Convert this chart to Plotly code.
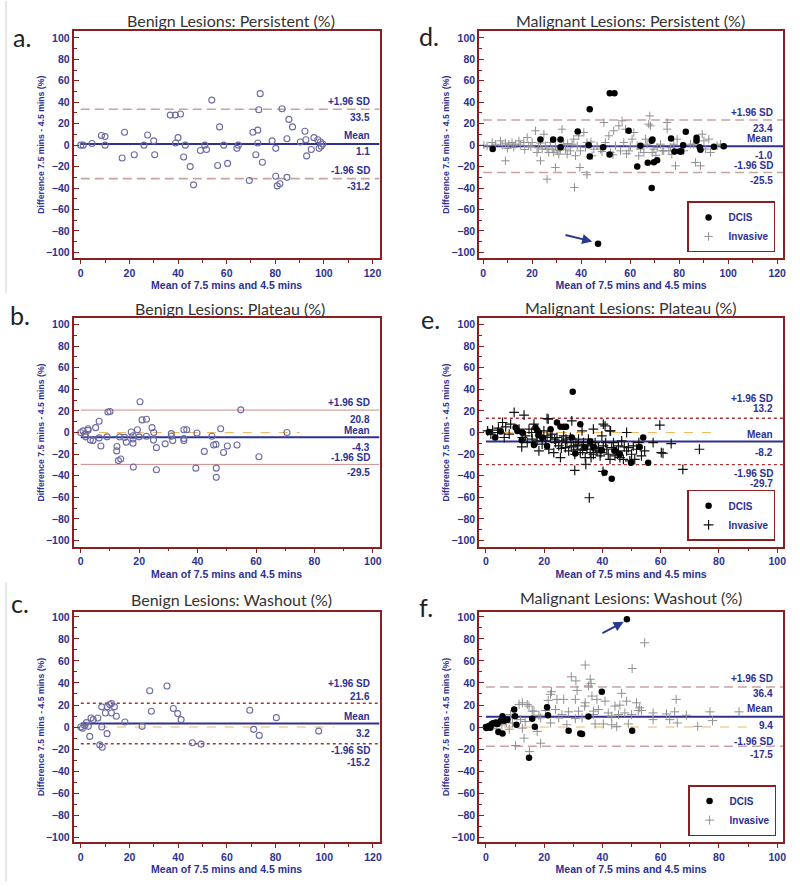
import plotly.graph_objects as go

# ---------------- data ----------------
# a. Benign lesions: persistent
a_x = [0, 1, 4.6, 8.5, 10, 10, 17, 18, 22, 26, 27.5, 30, 30.4, 36.8, 38.9, 41, 39, 40, 43, 42.3,
       45, 46.4, 49.2, 51, 51.7, 53.9, 56.3, 57.1, 58.8, 60.4, 64.2, 64.8, 69.3, 70.8, 72, 72.8,
       73.2, 72.8, 73.8, 74.7, 78.7, 80.2, 80.2, 80.8, 81.9, 82.8, 84.8, 84.8, 85.6, 87.1, 90.3,
       92.2, 92.6, 92.9, 94.8, 95.9, 97.5, 98, 98.6, 98.9, 99.5]
a_y = [0, 0, 1.5, 9, 8, 0, -12, 12, -9, 0, 9.5, 4, -9, 28, 28, 29, 2, 7, 0, -11,
       -20, -37, -5, 0, -4, 42, -19, 17, 0, -17, -3, 0, -33, 12, -9, 14,
       33, 2, 48, -16, 4, -3, -29, -38, -36, 34, 6, -30, 24, 17, 3,
       13, 5, -10, -4, 7, 5, -3, 3, -1, 1]
a_stats = [33.5, 1.1, -31.2]

# b. Benign lesions: plateau
b_x = [0, 0.8, 1.5, 1.7, 2.5, 2.5, 3.3, 4.2, 5.1, 6.3, 6.3, 6.9, 9, 9.3, 10, 12.4, 12.3, 12.9, 13.7, 13.3,
       15, 15.6, 17.3, 17.9, 17.9, 17.9, 18, 19.4, 20, 20.3, 21, 22.5, 22.5, 24.4, 25, 24.9, 25.9, 25.9,
       28.9, 31, 31, 31.5, 35.3, 36.3, 35.3, 35.3, 39.8, 39.4, 42.3, 44.9, 45.5, 46.3, 46.4, 46.4, 47.9,
       48.9, 50.2, 53.5, 54.8, 61, 70.6]
b_y = [0, 1.5, -1.5, -4, 2, 3.5, -7, -7.5, 4.5, 10.5, -5, -12.5, -4, 19, 19.5, -13, -17, -26, -24.5, -4,
       -4.5, -9, 0.5, -3, -6, -10, -32, 2.5, -4, 28.5, 11.7, 12.3, -3.5, 4.5, 0, -7, -14, -34.5,
       -10.5, -1, -3.5, -7.5, 2.5, 2.5, -5.5, -7.5, -0.5, -33, -17.5, -3.5, -11.5, -11, -33, -41.5, 3.5,
       -18.5, -12.5, -11.5, 21, -22.5, 0]
b_stats = [20.8, -4.3, -29.5]
b_zero_end = 75

# c. Benign lesions: washout
c_x = [0, 0.7, 1.6, 2.3, 3.1, 3.7, 4.2, 5.1, 7, 7.8, 8.8, 8.6, 8.6, 10.1, 10.8, 10.9, 11.9, 12.6, 12.6, 13.8,
       14.6, 18.1, 25.2, 28.3, 29, 35.4, 38, 39.8, 41.2, 45.8, 49.4, 69.4, 71, 73.3, 80.3, 97.7]
c_y = [0, -1, 1.5, 4, 0.6, -8.5, 8.2, 6.7, 8.2, -16.2, -18.3, 18.3, 0, 12.8, -6, 18.3, 20.4, 12.8, 21.3, 18.3,
       9.8, 4.6, 0.6, 32.9, 14.3, 37.2, 16.8, 12.2, 6.7, -14.3, -15.5, 15.2, -2.1, -7.6, 8.5, -3.7]
c_stats = [21.6, 3.2, -15.2]
c_zero_end = 104

# d. Malignant lesions: persistent
d_dcis_x = [3.9, 23.4, 28.6, 31.6, 31.6, 38.6, 43.5, 43.1, 43.5, 49, 51.6, 51.7, 53.6, 46.9, 59.4,
            64.2, 62.9, 67.2, 68.8, 69.1, 69.7, 71, 68.8, 76.7, 78.1, 80.3, 80.8, 81.6, 82.7, 87.1,
            87.1, 88.4, 88.7, 94.2, 98.2]
d_dcis_y = [-3.7, 5.3, 5.3, 5.3, -2, 12.7, 33.5, 0, -10.6, -2, -8.7, 48.4, 48.4, -92, 13.4,
            -0.6, -19.9, -16.5, 4, 5.3, -16, -14, -40, 6.2, -5.9, -6, -6, 0, 12.4, 7,
            4, -2, -4.3, -1.5, -1]
d_inv_x = [0.3, 1.6, 3.7, 5.0, 7.1, 7.8, 9.1, 10.5, 11.8, 13.2,
           14.6, 15.2, 16.6, 18.0, 18.6, 20.0, 21.4, 22.0, 23.4, 24.1,
           24.8, 25.4, 26.1, 26.8, 27.5, 28.2, 28.8, 29.5, 30.2, 30.9,
           32.2, 32.9, 33.6, 34.3, 35.6, 36.3, 37.0, 37.7, 38.4, 39.0,
           39.7, 41.1, 41.8, 42.4, 44.5, 45.2, 46.5, 47.9, 49.3, 49.9,
           51.3, 52.0, 53.3, 54.0, 55.4, 56.1, 56.7, 57.4, 58.1, 59.5,
           60.1, 60.8, 61.5, 62.9, 64.2, 65.6, 66.3, 66.9, 67.6, 68.0,
           68.3, 69.0, 69.7, 71.0, 72.4, 73.1, 73.7, 75.1, 75.1, 75.8,
           76.5, 77.8, 78.5, 79.2, 80.5, 81.9, 84.6, 86.0, 86.7, 88.7,
           89.4, 90.1, 90.7, 92.1, 92.8, 95.5, 96.9,
           9.1, 23.4, 29.5, 26.1, 37.3, 39.5, 42.4,
           10.0, 12.5, 17.0, 19.5, 22.5, 31.5, 34.5, 44.0, 48.5, 53.0, 58.5, 63.5, 70.5, 77.0]
d_inv_y = [0, -0.6, 2.5, 0.9, 4.0, 0, 1.9, 0.9, 2.5, 0.9,
           4.0, 0, 2.5, 7.1, -0.6, 2.5, 13.4, -6.8, 1.9, -3.7,
           10.2, -0.6, -3.7, -6.8, 2.5, -3.7, -6.8, -0.6, -5.3, -8.4,
           14.9, 0.9, -3.7, -8.4, -5.3, 0.9, 5.6, -9.9, -0.6, 8.7,
           -5.3, 11.8, -2.2, 2.5, -9.9, -3.7, -0.6, -3.7, 21.1, 2.5,
           8.7, -6.8, 13.4, -0.6, 18.0, -5.3, 22.7, 2.5, 14.9, -5.3,
           -0.6, 5.6, 11.8, -0.6, -3.7, -6.8, 5.6, 0.9, 19.6, 27.3,
           18.0, -6.8, -3.7, -2.2, 0.9, -5.3, -5.3, 14.9, 21.1, -5.3,
           -2.2, 0.9, -19.3, 5.6, -3.7, -5.3, 0.9, 0.9, -16.1, -19.3,
           10.2, 4.0, -3.7, 5.6, -6.8, -0.6, 0.9,
           -14.6, -14.6, -20.8, -31.7, -39.4, -20.8, -27.6,
           -3.0, -2.0, -4.0, -1.5, -2.5, -4.5, 1.5, 3.0, -6.0, -9.0, -8.0, -10.0, -9.5, -8.5]
d_stats = [23.4, -1.0, -25.5]

# e. Malignant lesions: plateau
e_dcis_x = [29.8, 3.2, 5.1, 10.2, 10.8, 12.3, 12.5, 16.5, 17.0, 17.6, 18.2, 18.0, 19.3, 21.0, 22.2,
            24.4, 25.6, 26.7, 27.5, 29.5, 30.7, 32.4, 33.9, 35.8, 36.9, 39.8, 40.7, 43.2, 44.3, 49.8,
            54.0, 55.7, 52.8, 46.0, 1.0]
e_dcis_y = [37.8, -4.6, 0.9, 4.6, 1.5, -7.1, 0, -11.5, 4.6, 2.2, 0, -2.5, -4.6, -12.4, 3.1,
            9.3, 5.3, 5.3, 5.3, -4.6, -19.5, 7.7, -13.9, -8.4, -13.3, -16.4, -37.2, -42.7, -17, -27.9,
            -4.6, -27.9, -13.3, -20, 0.5]
e_inv_x = [9.7, 13.1, 21.0, 59.7, 73.3, 67.6, 30.5, 40.2, 34.3, 35.5, 60.8, 63.6,
           0.6, 2.3, 4.3, 5.7, 6.8, 6.3, 8.0, 8.5, 11.4, 12.3,
           13.6, 14.8, 15.7, 16.5, 17.6, 18.8, 19.9, 20.5, 21.4, 22.2,
           22.7, 23.3, 23.9, 24.4, 25.0, 25.6, 26.1, 26.7, 27.3, 27.8,
           28.4, 29.0, 29.5, 30.1, 30.9, 31.3, 31.8, 32.4, 33.0, 33.5,
           34.1, 34.7, 35.2, 35.8, 36.4, 36.9, 37.5, 38.1, 38.6, 39.2,
           39.8, 40.3, 40.9, 41.5, 42.0, 42.6, 43.2, 44.3, 44.9, 45.5,
           46.0, 46.6, 47.2, 48.3, 48.9, 50.0, 51.1, 51.7, 52.5, 53.4,
           57.4, 60.2, 48.3, 40.3, 42.8, 36.9, 33.0, 1.7, 4.0, 12.5,
           14.2, 18.2, 21.6,
           15.9, 19.3, 21.0, 23.6, 25.9, 27.5, 29.3, 30.5, 31.6, 33.2, 35.0,
           36.1, 37.7, 39.5, 41.1, 42.6, 43.8, 45.2, 47.5, 49.4, 50.6, 54.5]
e_inv_y = [18.6, 16.1, 13.0, 6.8, -15.5, -34.1, -35.0, -36.0, -29.4, -60.4, -19.2, -10.2,
           1.5, 2.2, 4.0, 9.3, 5.3, -4.6, -1.5, 7.7, 3.1, -13.3,
           -3.1, 3.1, 0, 7.7, -7.7, -3.1, 1.5, -7.7, 12.4, -4.6,
           -1.5, -18.6, -9.3, -4.6, -12.4, -23.2, -7.7, -3.1, -13.9, -9.3,
           -17.0, -4.6, 10.8, -12.4, -9.3, -15.5, -6.2, -18.6, -12.4, -9.3,
           -23.2, -15.5, -6.2, -18.6, -12.4, -20.1, -9.3, -17.0, -13.9, -21.7,
           -3.1, -12.4, 6.2, -15.5, -20.1, 1.5, -13.9, -21.7, -17.0, -12.4,
           -23.2, -7.7, -24.8, -17.0, -13.9, -20.1, -24.8, -15.5, -9.3, -21.7,
           -9.3, -18.6, 0, 7.7, 1.5, 3.1, 1.5, -1.5, 0, -4.6,
           -9.3, -17.0, -15.5,
           -6.2, -10.8, -3.1, -6.2, -14.6, -6.2, -13.3, -20.1, -11.5, -16.4, -11.5,
           -23.2, -14.6, -18.6, -9.3, -24.8, -9.3, -20.1, -13.3, -26.3, -12.4, -17.0]
e_stats = [13.2, -8.2, -29.7]
e_zero_end = 78

# f. Malignant lesions: washout
f_dcis_x = [0, 0.2, 0.8, 1.1, 1.5, 1.8, 2.0, 2.5, 3.0, 3.4, 4.0, 4.3, 5.7, 5.1, 5.7, 6.3, 7.4, 9.7, 10.0, 10.5,
            15.9, 16.8, 21.0, 21.3, 28.4, 32.4, 33.0, 35.2, 39.8, 50.2, 14.8, 48.4]
f_dcis_y = [0, -0.9, 0.3, 0.9, -0.6, 1.5, 2.8, 3.4, 3.4, 4.0, 2.8, -4.6, -5.8, 5.8, 9.8, 5.8, 6.7, 15.9, 9.8, 2.1,
            7.6, 0.3, 18.0, 10.7, -3.4, -5.8, -6.4, 9.5, 32.1, -3.4, -27.8, 97.9]
f_inv_x = [54.5, 34.1, 50.2, 29.3, 30.9, 35.8, 36.1, 35.2, 22.5, 22.2,
           46.6, 65.3, 31.3, 36.4, 12.5, 14.2, 21.4, 24.4, 26.7, 30.7,
           34.1, 38.1, 40.9, 44.3, 46.0, 48.3, 51.7, 52.8, 52.3, 11.4,
           14.8, 16.5, 20.5, 23.9, 26.1, 28.4, 31.8, 33.9, 36.9, 38.6,
           42.0, 43.2, 45.5, 47.7, 50.0, 53.4, 57.4, 57.4, 62.0, 63.1,
           64.8, 65.7, 68.8, 72.7, 76.9, 77.8, 86.9, 8.5, 9.1, 11.9,
           13.1, 18.2, 18.8, 17.6, 10.2, 15.0, 18.8, 22.2, 27.8, 30.7,
           37.5, 40.3, 43.2, 44.9, 48.9, 36.9, 33.0, 25.0, 15.9, 2.0,
           3.5, 5.5, 7.0, 8.0, 12.5, 13.5]
f_inv_y = [76.5, 56.3, 53.2, 45.6, 41.9, 43.4, 39.4, 37.3, 32.1, 29.7,
           30.6, 25.1, 33.3, 28.1, 22.0, 20.5, 24.2, 25.1, 25.1, 25.1,
           22.0, 25.1, 23.5, 19.0, 19.9, 23.5, 22.0, 17.4, 15.0, 20.5,
           19.0, 14.4, 15.0, 15.9, 11.3, 13.8, 14.4, 19.0, 14.4, 15.9,
           12.8, 9.8, 11.3, 12.8, 11.3, 15.0, 12.8, 6.7, 11.9, 6.7,
           13.8, 3.7, 10.7, 0.6, 13.8, 5.8, 13.8, 11.3, 3.7, 6.7,
           -10.1, 10.7, 8.3, -4.0, -16.8, -22.3, -14.7, 3.7, 2.1, 7.6,
           2.8, 2.8, 2.1, 0.6, 2.8, 11.3, 8.3, 8.3, 14.4, 1.0,
           -1.5, 2.0, 4.0, -2.0, -1.0, 5.0]
f_stats = [36.4, 9.4, -17.5]
f_zero_end = 92

stat_names = ["+1.96 SD", "Mean", "-1.96 SD"]
titles = ["Benign Lesions: Persistent (%)", "Benign Lesions: Plateau (%)", "Benign Lesions: Washout (%)",
          "Malignant Lesions: Persistent (%)", "Malignant Lesions: Plateau (%)", "Malignant Lesions: Washout (%)"]
letters = ["a.", "b.", "c.", "d.", "e.", "f."]
x_title = "Mean of 7.5 mins and 4.5 mins"
y_title = "Difference 7.5 mins - 4.5 mins (%)"

# ---------------- style ----------------
BLUE = "#2E3192"
FRAME = "#8B1E1E"
TXT = "#333333"
BOLD = dict(family="Liberation Sans, Arial", size=10, color=BLUE, weight="bold")
TICKF = dict(BOLD, size=10.5)

W, H = 800, 887
def px_x(p):
    return p / W
def px_y(p):
    return 1 - p / H
def sfx(n):
    return "" if n == 1 else str(n)

col_dom = [[px_x(74), px_x(381)], [px_x(481), px_x(786)]]
row_dom = [[px_y(258), px_y(30)], [px_y(547), px_y(318)], [px_y(843), px_y(612)]]

panels = [
    dict(n=1, col=0, row=0, xr=[-2.9, 122.9], yr=[-105.6, 106.5], stats=a_stats,
         lim=dict(color="#C9A2A2", width=1.6, dash="9px,5px"), zero=None,
         shifts=[(8, -8), (8, -8), (8, -8)], title_xy=(232, 20), letter_xy=(22, 36)),
    dict(n=2, col=0, row=1, xr=[-2.4, 102.3], yr=[-105.8, 105.8], stats=b_stats,
         lim=dict(color="#D08A8A", width=1, dash="solid"), zero=b_zero_end,
         shifts=[(8, -9), (7, -10), (7, -8)], title_xy=(231, 308), letter_xy=(20, 315)),
    dict(n=3, col=0, row=2, xr=[-2.9, 122.7], yr=[-104.5, 104.8], stats=c_stats,
         lim=dict(color="#A83232", width=1.3, dash="dot"), zero=c_zero_end,
         shifts=[(20, 7), (7, -10), (-7, -19)], title_xy=(232, 600), letter_xy=(20, 603)),
    dict(n=4, col=1, row=0, xr=[-1.6, 122.4], yr=[-105.6, 106.5], stats=d_stats,
         lim=dict(color="#C9A2A2", width=1.6, dash="9px,5px"), zero=None,
         shifts=[(8, -8), (8, -9), (7, -8)], title_xy=(633, 20), letter_xy=(431, 35)),
    dict(n=5, col=1, row=1, xr=[-2.3, 102.0], yr=[-105.8, 105.8], stats=e_stats,
         lim=dict(color="#A83232", width=1.3, dash="dot"), zero=e_zero_end,
         shifts=[(20, 10), (7, -11), (-9, -19)], title_xy=(633, 307), letter_xy=(432, 319)),
    dict(n=6, col=1, row=2, xr=[-2.3, 102.0], yr=[-104.5, 104.8], stats=f_stats,
         lim=dict(color="#C9A2A2", width=1.6, dash="9px,5px"), zero=f_zero_end,
         shifts=[(8, -7), (8, -9), (5, -8)], title_xy=(633, 598), letter_xy=(428, 607)),
]

fig = go.Figure()

benign = [(a_x, a_y), (b_x, b_y), (c_x, c_y)]
for i, (bx, by) in enumerate(benign):
    n = i + 1
    fig.add_trace(go.Scatter(x=bx, y=by, mode="markers", showlegend=False,
                             xaxis=f"x{sfx(n)}", yaxis=f"y{sfx(n)}",
                             marker=dict(symbol="circle-open", size=6, color="#6C6CA4",
                                         line=dict(width=1.1, color="#6C6CA4"))))

malig = [(d_dcis_x, d_dcis_y, d_inv_x, d_inv_y, "#909090", 6, 1.0, "legend"),
         (e_dcis_x, e_dcis_y, e_inv_x, e_inv_y, "#111111", 7, 1.2, "legend2"),
         (f_dcis_x, f_dcis_y, f_inv_x, f_inv_y, "#909090", 6.5, 1.0, "legend3")]
for i, (dx, dy, ix, iy, icol, isz, ilw, lg) in enumerate(malig):
    n = i + 4
    fig.add_trace(go.Scatter(x=ix, y=iy, mode="markers", name="Invasive", legend=lg,
                             xaxis=f"x{n}", yaxis=f"y{n}",
                             marker=dict(symbol="cross-thin", size=isz, color=icol,
                                         line=dict(width=ilw, color=icol))))
    fig.add_trace(go.Scatter(x=dx, y=dy, mode="markers", name="DCIS", legend=lg,
                             xaxis=f"x{n}", yaxis=f"y{n}",
                             marker=dict(symbol="circle", size=6.5, color="black")))

layout = dict(width=W, height=H, margin=dict(l=0, r=0, t=0, b=0),
              paper_bgcolor="white", plot_bgcolor="white",
              font=dict(family="Liberation Sans, Arial", color=BLUE))
annotations = []
shapes = []

for p in panels:
    n = p["n"]
    s = sfx(n)
    xa = dict(domain=col_dom[p["col"]], range=p["xr"], anchor=f"y{s}",
              showline=True, linecolor=FRAME, linewidth=2, mirror=True,
              ticks="outside", ticklen=4, tickwidth=1.2, tickcolor=FRAME,
              tickmode="linear", tick0=0, dtick=20, tickfont=TICKF,
              minor=dict(ticks="outside", ticklen=2.5, dtick=10, tick0=0, tickcolor=FRAME),
              showgrid=False, zeroline=False, fixedrange=True,
              title=dict(text=x_title, font=dict(BOLD, size=10.5), standoff=4))
    ya = dict(domain=row_dom[p["row"]], range=p["yr"], anchor=f"x{s}",
              showline=True, linecolor=FRAME, linewidth=2, mirror=True,
              ticks="inside", ticklen=5, tickwidth=1.2, tickcolor=FRAME,
              tickmode="linear", tick0=0, dtick=20, tickfont=TICKF,
              minor=dict(ticks="inside", ticklen=3, dtick=10, tick0=0, tickcolor=FRAME),
              showgrid=False, zeroline=False, fixedrange=True,
              title=dict(text=y_title, font=dict(BOLD, size=8.7), standoff=0))
    layout[f"xaxis{s}"] = xa
    layout[f"yaxis{s}"] = ya

    # zero reference line
    if p["zero"] is not None:
        shapes.append(dict(type="line", xref=f"x{s}", yref=f"y{s}", x0=0, x1=p["zero"], y0=0, y1=0,
                           line=dict(color="#F2B55A", width=1, dash="dash"), layer="below"))
    up, mean, lo = p["stats"]
    for v in (up, lo):
        shapes.append(dict(type="line", xref=f"x{s}", yref=f"y{s}", x0=0, x1=p["xr"][1], y0=v, y1=v,
                           line=p["lim"], layer="below"))
    shapes.append(dict(type="line", xref=f"x{s}", yref=f"y{s}", x0=0, x1=p["xr"][1], y0=mean, y1=mean,
                       line=dict(color=BLUE, width=2), layer="below"))
    for name, v, (s1, s2) in zip(stat_names, p["stats"], p["shifts"]):
        annotations.append(dict(text=name, xref=f"x{s} domain", x=0.975, xanchor="right",
                                yref=f"y{s}", y=v, yanchor="middle", yshift=s1,
                                showarrow=False, font=BOLD))
        annotations.append(dict(text=f"{v:.1f}", xref=f"x{s} domain", x=0.975, xanchor="right",
                                yref=f"y{s}", y=v, yanchor="middle", yshift=s2,
                                showarrow=False, font=BOLD))

    tx, ty = p["title_xy"]
    annotations.append(dict(text=titles[n - 1], xref="paper", yref="paper", x=px_x(tx), y=px_y(ty),
                            xanchor="center", yanchor="middle", showarrow=False,
                            font=dict(family="Lato, Open Sans", size=16, color=TXT)))
    lx, ly = p["letter_xy"]
    annotations.append(dict(text=letters[n - 1], xref="paper", yref="paper", x=px_x(lx), y=px_y(ly),
                            xanchor="center", yanchor="middle", showarrow=False,
                            font=dict(family="Lato, Open Sans", size=25, color="#222222")))

# arrows pointing at the outlying DCIS cases
annotations.append(dict(text="", x=44.5, y=-89.8, xref="x4", yref="y4", ax=33, ay=-83.5,
                        axref="x4", ayref="y4", showarrow=True, arrowhead=2, arrowsize=1,
                        arrowwidth=2, arrowcolor="#283A8C"))
annotations.append(dict(text="", x=47.3, y=95.5, xref="x6", yref="y6", ax=39.5, ay=84.5,
                        axref="x6", ayref="y6", showarrow=True, arrowhead=2, arrowsize=1,
                        arrowwidth=2, arrowcolor="#283A8C"))

# thin gray separators at the left edge
shapes.append(dict(type="line", xref="paper", yref="paper", x0=px_x(6), x1=px_x(6),
                   y0=px_y(0), y1=px_y(293), line=dict(color="#CFCFCF", width=1)))
shapes.append(dict(type="line", xref="paper", yref="paper", x0=px_x(6), x1=px_x(6),
                   y0=px_y(583), y1=px_y(882), line=dict(color="#CFCFCF", width=1)))

leg_common = dict(bgcolor="white", bordercolor=FRAME, borderwidth=1.5, font=BOLD,
                  traceorder="reversed", tracegroupgap=0, itemwidth=30,
                  xanchor="right", yanchor="bottom")
layout["legend"] = dict(leg_common, x=px_x(778), y=px_y(252))
layout["legend2"] = dict(leg_common, x=px_x(778), y=px_y(541))
layout["legend3"] = dict(leg_common, x=px_x(779), y=px_y(837))
layout["annotations"] = annotations
layout["shapes"] = shapes

fig.update_layout(**layout)
fig.write_html("out.html", config={"displayModeBar": False},
               post_script="document.body.style.margin='0px';document.body.style.overflow='hidden';")
